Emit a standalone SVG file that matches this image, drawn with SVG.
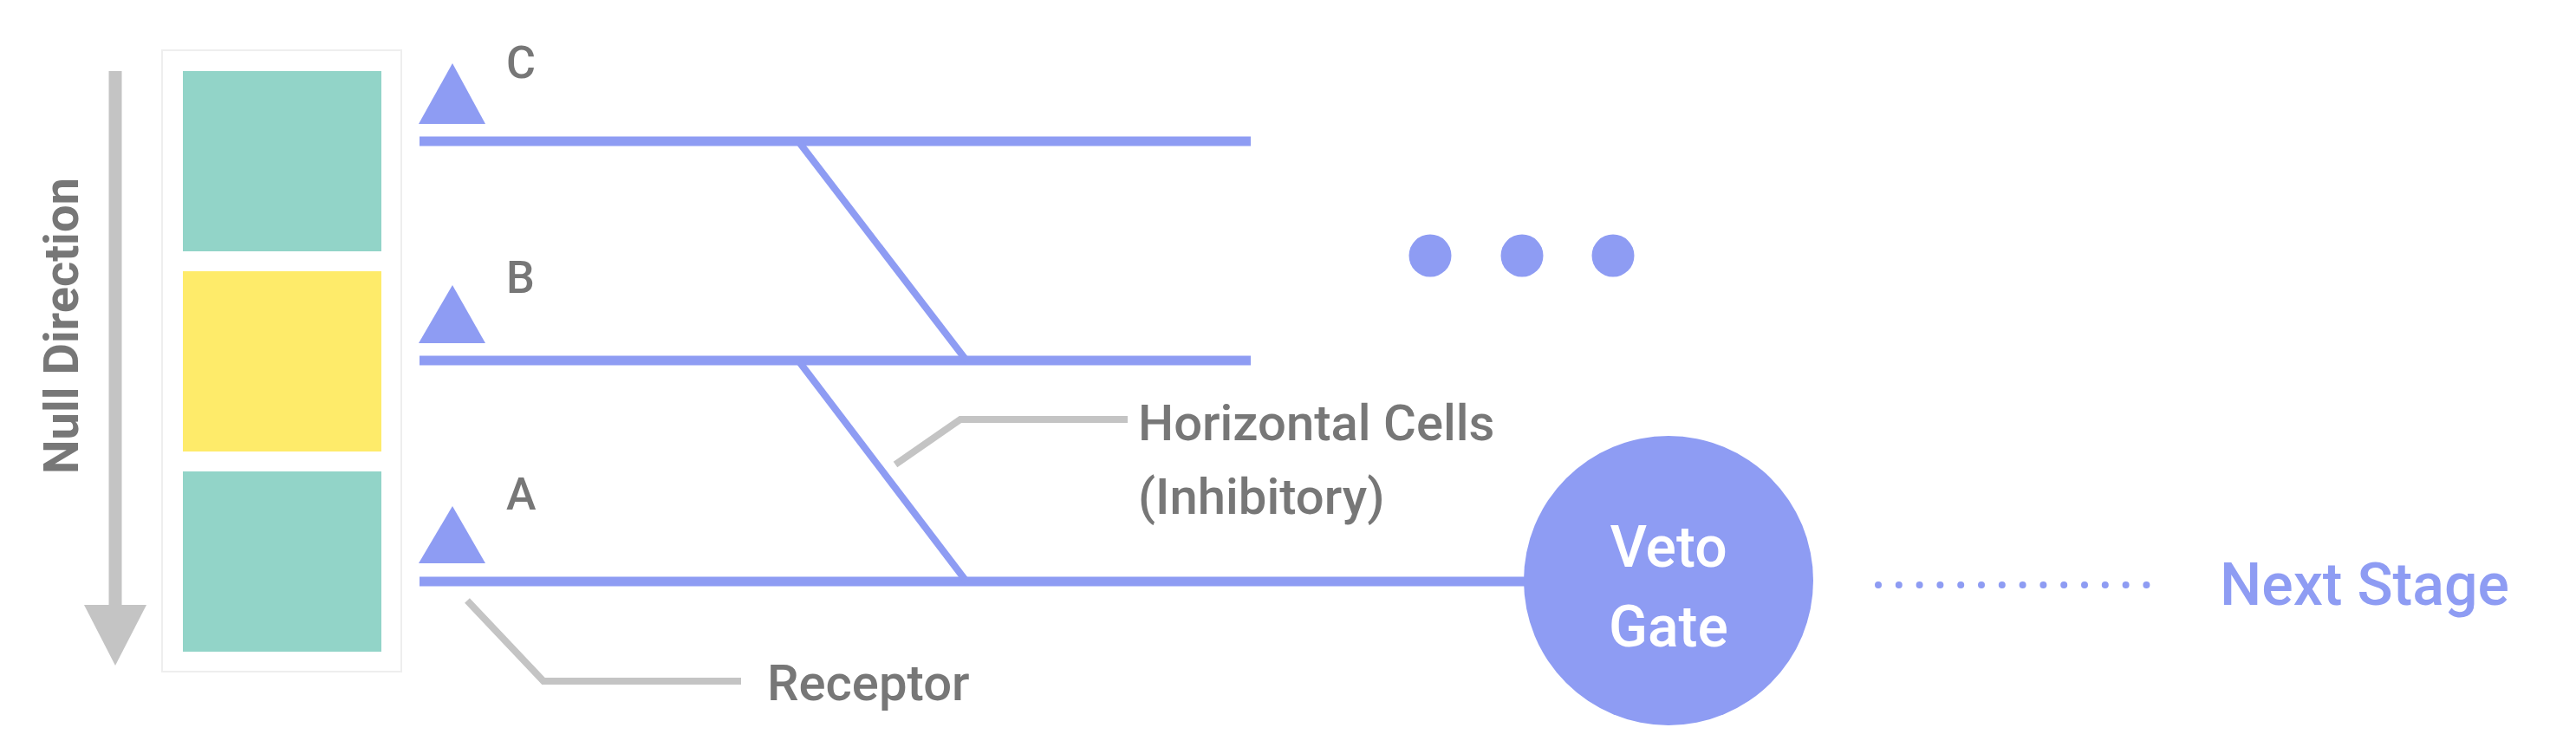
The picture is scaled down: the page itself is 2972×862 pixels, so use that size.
<svg xmlns="http://www.w3.org/2000/svg" width="2972" height="862" viewBox="0 0 2972 862">
<style>
.lbl{font-family:Roboto,"Liberation Sans",sans-serif;font-weight:500;fill:#777;}
.blue{fill:#8e9cf3;}
.wire{stroke:#8e9cf3;stroke-width:11;fill:none;}
.diag{stroke:#8e9cf3;stroke-width:8;fill:none;}
.lead{stroke:#c4c4c4;stroke-width:8;fill:none;}
</style>
<rect width="2972" height="862" fill="#fff"/>
<g id="null-direction">
<line x1="133" y1="82" x2="133" y2="705" stroke="#c4c4c4" stroke-width="15"/>
<polygon points="97,698 169,698 133,768" fill="#c4c4c4"/>
<text class="lbl" font-weight="700" font-size="56" transform="translate(90,376) rotate(-90)" text-anchor="middle" style="font-weight:700">Null Direction</text>
</g>
<g id="stimulus">
<rect x="187" y="58" width="276" height="717" fill="#fff" stroke="#eee" stroke-width="2"/>
<rect x="211" y="82" width="229" height="208" fill="#92d4c8"/>
<rect x="211" y="313" width="229" height="208" fill="#feeb6a"/>
<rect x="211" y="544" width="229" height="208" fill="#92d4c8"/>
</g>
<g id="receptor-C"><polygon class="blue" points="483,143 560,143 522,73"/><text class="lbl" font-size="52" x="584" y="90">C</text></g>
<g id="receptor-B"><polygon class="blue" points="483,396 560,396 522,329"/><text class="lbl" font-size="52" x="584" y="338">B</text></g>
<g id="receptor-A"><polygon class="blue" points="483,650 560,650 522,584"/><text class="lbl" font-size="52" x="584" y="588">A</text></g>
<g id="connectors">
<line class="wire" x1="484" y1="163" x2="1443" y2="163"/>
<line class="wire" x1="484" y1="416" x2="1443" y2="416"/>
<line class="wire" x1="484" y1="671" x2="1760" y2="671"/>
<line class="diag" x1="921" y1="163" x2="1115" y2="416"/>
<line class="diag" x1="921" y1="416" x2="1115" y2="671"/>
<polyline class="lead" points="1033,536 1108,484 1301,484"/>
<polyline class="lead" points="539,693 627,786 855,786"/>
<line x1="2167" y1="675" x2="2500" y2="675" stroke="#8e9cf3" stroke-width="8" stroke-linecap="round" stroke-dasharray="0 23.8"/>
</g>
<g id="horizontal-cells-label">
<text class="lbl" font-size="58" x="1313" y="508">Horizontal Cells</text>
<text class="lbl" font-size="58" x="1313" y="593">(Inhibitory)</text>
</g>
<g id="receptor-label"><text class="lbl" font-size="58" x="885" y="808">Receptor</text></g>
<g id="ellipsis">
<circle class="blue" cx="1650" cy="295" r="24.5"/>
<circle class="blue" cx="1756" cy="295" r="24.5"/>
<circle class="blue" cx="1861" cy="295" r="24.5"/>
</g>
<g id="veto-gate">
<circle class="blue" cx="1925" cy="670" r="167"/>
<text font-family="Roboto,'Liberation Sans',sans-serif" font-weight="500" font-size="66" fill="#fff" text-anchor="middle" x="1925" y="654">Veto</text>
<text font-family="Roboto,'Liberation Sans',sans-serif" font-weight="500" font-size="66" fill="#fff" text-anchor="middle" x="1925" y="746">Gate</text>
</g>
<g id="next-stage"><text font-family="Roboto,'Liberation Sans',sans-serif" font-weight="500" font-size="68" fill="#8e9cf3" x="2561" y="698">Next Stage</text></g>
</svg>
